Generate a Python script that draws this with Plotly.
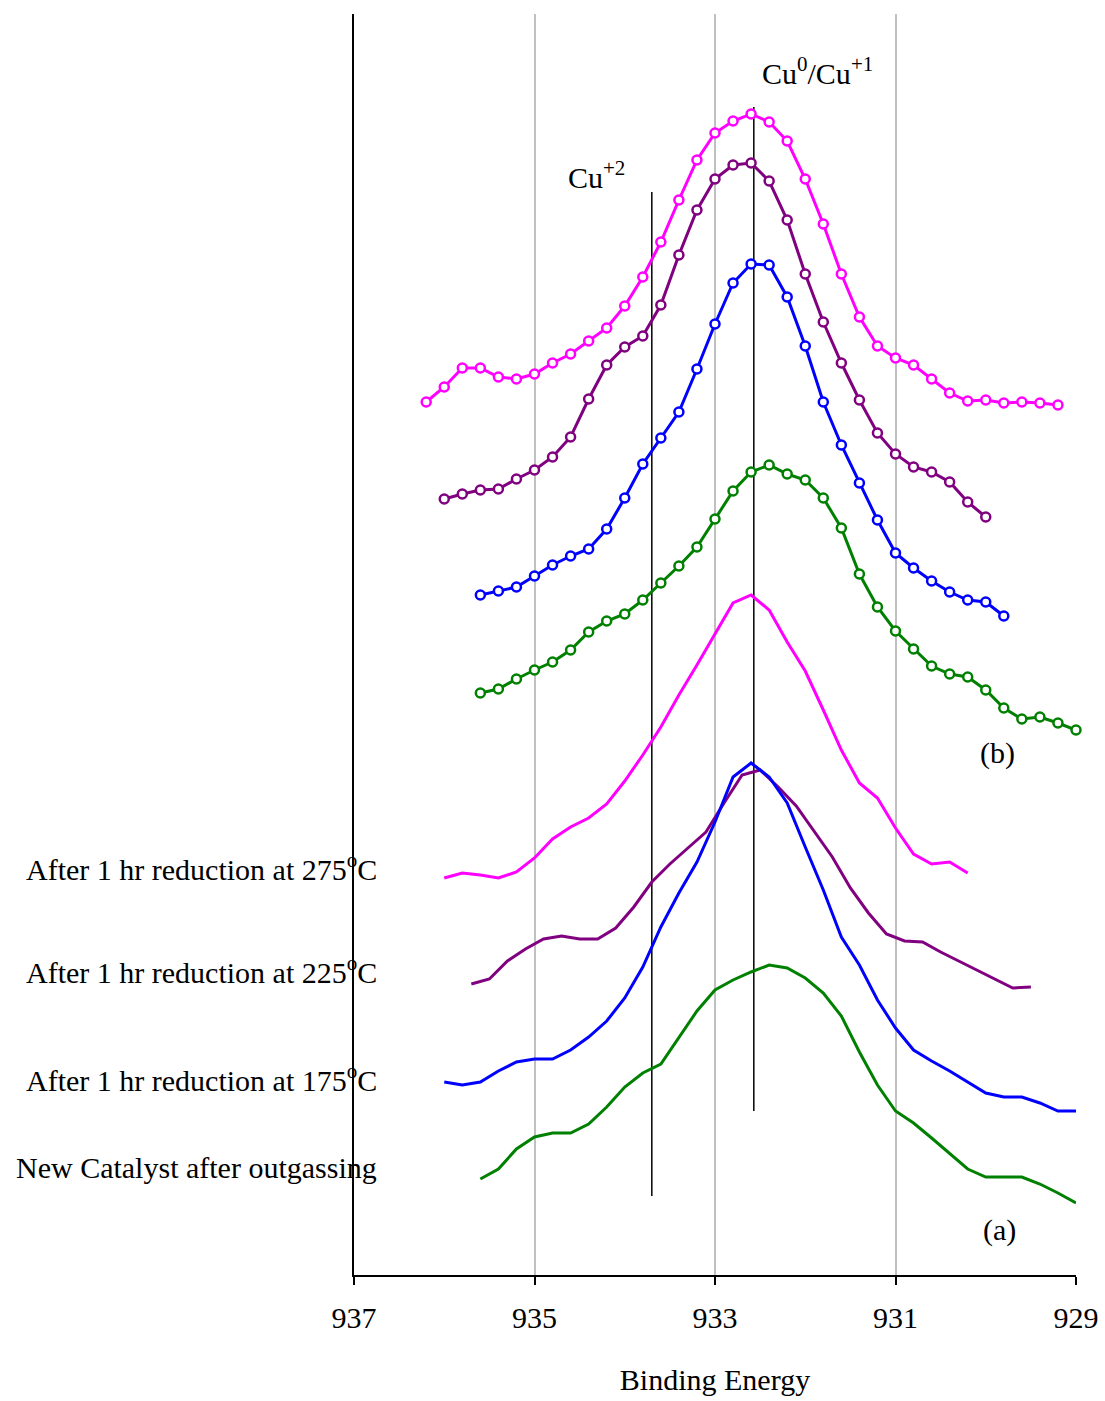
import plotly.graph_objects as go

# ---- data (binding energy, eV / offset intensity, a.u.) ----

# (b) group: curves with open circle markers
be_b275 = [936.2, 936.0, 935.8, 935.6, 935.4, 935.2, 935.0, 934.8, 934.6, 934.4, 934.2, 934.0,
           933.8, 933.6, 933.4, 933.2, 933.0, 932.8, 932.6, 932.4, 932.2, 932.0, 931.8, 931.6,
           931.4, 931.2, 931.0, 930.8, 930.6, 930.4, 930.2, 930.0, 929.8, 929.6, 929.4, 929.2]
int_b275 = [873, 888, 907, 907, 898, 896, 901, 912, 921, 934, 947, 969,
            998, 1033, 1075, 1115, 1142, 1154, 1161, 1153, 1134, 1096, 1051, 1001,
            958, 929, 917, 910, 896, 882, 874, 875, 872, 873, 872, 870]

be_b225 = [936.0, 935.8, 935.6, 935.4, 935.2, 935.0, 934.8, 934.6, 934.4, 934.2, 934.0, 933.8,
           933.6, 933.4, 933.2, 933.0, 932.8, 932.6, 932.4, 932.2, 932.0, 931.8, 931.6, 931.4,
           931.2, 931.0, 930.8, 930.6, 930.4, 930.2, 930.0]
int_b225 = [776, 781, 785, 786, 796, 805, 818, 838, 876, 910, 928, 939,
            970, 1020, 1065, 1096, 1110, 1112, 1094, 1055, 1001, 953, 912, 875,
            842, 821, 808, 803, 793, 773, 758]

be_b175 = [935.6, 935.4, 935.2, 935.0, 934.8, 934.6, 934.4, 934.2, 934.0, 933.8, 933.6, 933.4,
           933.2, 933.0, 932.8, 932.6, 932.4, 932.2, 932.0, 931.8, 931.6, 931.4, 931.2, 931.0,
           930.8, 930.6, 930.4, 930.2, 930.0, 929.8]
int_b175 = [680, 684, 688, 699, 710, 719, 726, 746, 777, 811, 837, 863,
            906, 951, 992, 1011, 1010, 978, 929, 873, 830, 792, 755, 722,
            707, 694, 683, 675, 673, 659]

be_bnew = [935.6, 935.4, 935.2, 935.0, 934.8, 934.6, 934.4, 934.2, 934.0, 933.8, 933.6, 933.4,
           933.2, 933.0, 932.8, 932.6, 932.4, 932.2, 932.0, 931.8, 931.6, 931.4, 931.2, 931.0,
           930.8, 930.6, 930.4, 930.2, 930.0, 929.8, 929.6, 929.4, 929.2, 929.0]
int_bnew = [582, 586, 596, 605, 613, 625, 643, 654, 661, 675, 692, 709,
            728, 756, 784, 803, 810, 801, 795, 777, 747, 701, 668, 644,
            626, 609, 601, 598, 585, 567, 556, 558, 552, 545]

# (a) group: plain lines
be_a275 = [936.0, 935.8, 935.6, 935.4, 935.2, 935.0, 934.8, 934.6, 934.4, 934.2, 934.0, 933.8,
           933.6, 933.4, 933.2, 933.0, 932.8, 932.6, 932.4, 932.2, 932.0, 931.8, 931.6, 931.4,
           931.2, 931.0, 930.8, 930.6, 930.4, 930.2]
int_a275 = [397, 402, 400, 397, 403, 417, 436, 448, 457, 471, 494, 520,
            548, 580, 610, 641, 672, 680, 665, 633, 604, 565, 525, 492,
            477, 447, 421, 411, 413, 402]

be_a225 = [935.7, 935.5, 935.3, 935.1, 934.9, 934.7, 934.5, 934.3, 934.1, 933.9, 933.7, 933.5,
           933.3, 933.1, 932.9, 932.7, 932.5, 932.3, 932.1, 931.9, 931.7, 931.5, 931.3, 931.1,
           930.9, 930.7, 930.5, 930.3, 930.1, 929.9, 929.7, 929.5]
int_a225 = [291, 296, 314, 326, 336, 339, 336, 336, 347, 368, 393, 411,
            427, 443, 472, 500, 505, 488, 469, 444, 418, 387, 362, 341,
            334, 333, 323, 314, 305, 296, 287, 288]

be_a175 = [936.0, 935.8, 935.6, 935.4, 935.2, 935.0, 934.8, 934.6, 934.4, 934.2, 934.0, 933.8,
           933.6, 933.4, 933.2, 933.0, 932.8, 932.6, 932.4, 932.2, 932.0, 931.8, 931.6, 931.4,
           931.2, 931.0, 930.8, 930.6, 930.4, 930.2, 930.0, 929.8, 929.6, 929.4, 929.2, 929.0]
int_a175 = [193, 190, 193, 204, 213, 216, 216, 225, 238, 254, 277, 308,
            348, 382, 413, 453, 498, 512, 498, 472, 428, 385, 338, 310,
            275, 247, 225, 214, 204, 193, 182, 178, 178, 172, 164, 164]

be_anew = [935.6, 935.4, 935.2, 935.0, 934.8, 934.6, 934.4, 934.2, 934.0, 933.8, 933.6, 933.4,
           933.2, 933.0, 932.8, 932.6, 932.4, 932.2, 932.0, 931.8, 931.6, 931.4, 931.2, 931.0,
           930.8, 930.6, 930.4, 930.2, 930.0, 929.8, 929.6, 929.4, 929.2, 929.0]
int_anew = [96, 106, 126, 138, 142, 142, 151, 168, 188, 202, 211, 237,
            264, 285, 295, 303, 310, 307, 297, 282, 259, 223, 190, 164,
            152, 137, 121, 106, 98, 98, 98, 91, 82, 72]

# reference peak positions (eV) and the span of each marker line
peak_labels = ["Cu<sup>+2</sup>", "Cu<sup>0</sup>/Cu<sup>+1</sup>"]
peak_be = [933.7, 932.57]
peak_lo = [79, 164]
peak_hi = [1083, 1168]

sample_labels = ["After 1 hr reduction at 275<sup>o</sup>C",
                 "After 1 hr reduction at 225<sup>o</sup>C",
                 "After 1 hr reduction at 175<sup>o</sup>C",
                 "New Catalyst after outgassing"]
sample_label_y = [408, 305, 197, 108]

x_ticks = [937, 935, 933, 931, 929]

MAGENTA = "#FF00FF"
PURPLE = "#800080"
BLUE = "#0000FF"
GREEN = "#008000"
FONT = "Liberation Serif, Times New Roman, serif"
FS = 30

fig = go.Figure()

# reference lines first so the spectra sit on top
for be, lo, hi in zip(peak_be, peak_lo, peak_hi):
    fig.add_trace(go.Scatter(x=[be, be], y=[lo, hi], mode="lines",
                             line=dict(color="#000000", width=1.5),
                             showlegend=False, hoverinfo="skip"))

marker_series = [(be_b275, int_b275, MAGENTA), (be_b225, int_b225, PURPLE),
                 (be_b175, int_b175, BLUE), (be_bnew, int_bnew, GREEN)]
for x, y, c in marker_series:
    fig.add_trace(go.Scatter(
        x=x, y=y, mode="lines+markers",
        line=dict(color=c, width=3),
        marker=dict(symbol="circle", size=9, color="white",
                    line=dict(color=c, width=2.5)),
        showlegend=False, cliponaxis=False))

line_series = [(be_a275, int_a275, MAGENTA), (be_a225, int_a225, PURPLE),
               (be_a175, int_a175, BLUE), (be_anew, int_anew, GREEN)]
for x, y, c in line_series:
    fig.add_trace(go.Scatter(x=x, y=y, mode="lines",
                             line=dict(color=c, width=3),
                             showlegend=False))

annotations = [
    dict(x=934.31, y=1100, text=peak_labels[0]),
    dict(x=931.86, y=1204, text=peak_labels[1]),
    dict(x=929.87, y=522, text="(b)"),
    dict(x=929.85, y=45, text="(a)"),
]
for a in annotations:
    fig.add_annotation(x=a["x"], y=a["y"], xref="x", yref="y", text=a["text"],
                       showarrow=False, font=dict(family=FONT, size=FS, color="black"))

for lbl, yy in zip(sample_labels, sample_label_y):
    fig.add_annotation(x=0.034, y=yy, xref="paper", yref="y", text=lbl,
                       xanchor="right", showarrow=False,
                       font=dict(family=FONT, size=FS, color="black"))

fig.update_layout(
    width=1105, height=1401,
    margin=dict(l=354, r=29, t=14, b=126),
    paper_bgcolor="white", plot_bgcolor="white",
    font=dict(family=FONT, size=FS, color="black"),
    xaxis=dict(range=[937, 929], tickvals=x_ticks, ticktext=[str(t) for t in x_ticks],
               automargin=False,
               showgrid=True, gridcolor="#c0c0c0", gridwidth=1.5,
               showline=True, linecolor="black", linewidth=1.5,
               ticks="outside", ticklen=8, tickwidth=1.5, tickcolor="black",
               ticklabelstandoff=7,
               zeroline=False,
               title=dict(text="Binding Energy", standoff=36,
                          font=dict(family=FONT, size=FS))),
    yaxis=dict(range=[0, 1261], automargin=False,
               showgrid=False, zeroline=False,
               showline=True, linecolor="black", linewidth=1.5,
               showticklabels=False, ticks=""),
)

fig.write_html("out.html", config={"displayModeBar": False},
               post_script="document.body.style.margin='0';"
                           "document.body.style.overflow='hidden';")
